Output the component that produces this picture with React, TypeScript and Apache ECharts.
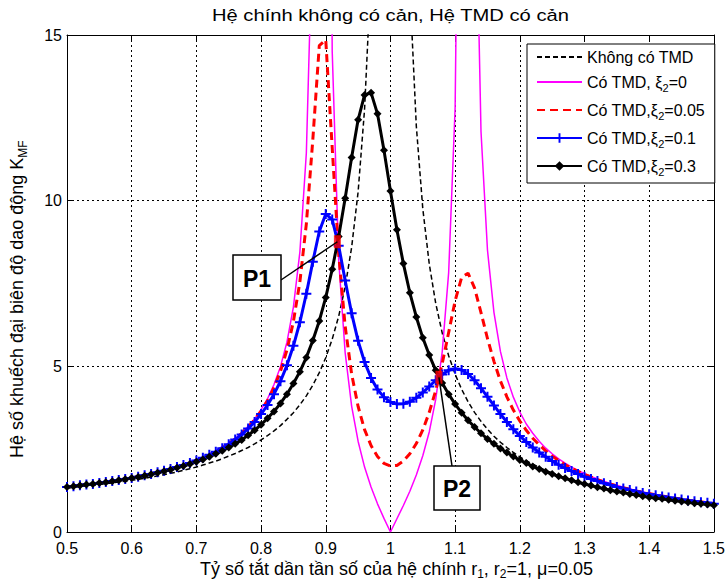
import React, { useEffect, useRef } from "react";
import * as echarts from "echarts";

// Frequency ratio r1 (x values)
const r = [
  0.5, 0.51, 0.52, 0.53, 0.54, 0.55, 0.56, 0.57, 0.58, 0.59,
  0.6, 0.61, 0.62, 0.63, 0.64, 0.65, 0.66, 0.67, 0.68, 0.69,
  0.7, 0.71, 0.72, 0.73, 0.74, 0.75, 0.76, 0.77, 0.78, 0.79,
  0.8, 0.81, 0.82, 0.83, 0.84, 0.85, 0.86, 0.87, 0.88, 0.89,
  0.9, 0.91, 0.92, 0.93, 0.94, 0.95, 0.96, 0.97, 0.98, 0.99,
  1.0,
  1.01, 1.02, 1.03, 1.04, 1.05, 1.06, 1.07, 1.08, 1.09, 1.1,
  1.11, 1.12, 1.13, 1.14, 1.15, 1.16, 1.17, 1.18, 1.19, 1.2,
  1.21, 1.22, 1.23, 1.24, 1.25, 1.26, 1.27, 1.28, 1.29, 1.3,
  1.31, 1.32, 1.33, 1.34, 1.35, 1.36, 1.37, 1.38, 1.39, 1.4,
  1.41, 1.42, 1.43, 1.44, 1.45, 1.46, 1.47, 1.48, 1.49, 1.5,
];

// Không có TMD
const kNoTMD = [
  1.33, 1.35, 1.37, 1.39, 1.41, 1.43, 1.46, 1.48, 1.51, 1.53,
  1.56, 1.59, 1.62, 1.66, 1.69, 1.73, 1.77, 1.81, 1.86, 1.91,
  1.96, 2.02, 2.08, 2.14, 2.21, 2.29, 2.37, 2.46, 2.55, 2.66,
  2.78, 2.91, 3.05, 3.21, 3.4, 3.6, 3.84, 4.11, 4.43, 4.81,
  5.26, 5.82, 6.51, 7.4, 8.59, 10.26, 12.76, 16.92, 25.25, 50.25,
  null,
  49.75, 24.75, 16.42, 12.25, 9.76, 8.09, 6.9, 6.01, 5.32, 4.76,
  4.31, 3.93, 3.61, 3.34, 3.1, 2.89, 2.71, 2.55, 2.4, 2.27,
  2.15, 2.05, 1.95, 1.86, 1.78, 1.7, 1.63, 1.57, 1.51, 1.45,
  1.4, 1.35, 1.3, 1.26, 1.22, 1.18, 1.14, 1.11, 1.07, 1.04,
  1.01, 0.98, 0.96, 0.93, 0.91, 0.88, 0.86, 0.84, 0.82, 0.8,
];

// Có TMD, ξ2 = 0
const kXi0 = [
  1.36, 1.38, 1.41, 1.43, 1.45, 1.48, 1.51, 1.54, 1.57, 1.6,
  1.63, 1.67, 1.71, 1.75, 1.8, 1.85, 1.9, 1.96, 2.02, 2.09,
  2.16, 2.25, 2.34, 2.44, 2.55, 2.68, 2.82, 2.99, 3.19, 3.41,
  3.69, 4.02, 4.45, 4.99, 5.73, 6.79, 8.45, 11.44, 18.53, 57.48,
  43.18, 14.5, 8.2, 5.41, 3.8, 2.74, 1.96, 1.36, 0.85, 0.41,
  0,
  0.4, 0.8, 1.23, 1.72, 2.3, 3.02, 4.0, 5.43, 7.83, 12.8,
  30.01, 127.3, 21.58, 12.09, 8.51, 6.63, 5.45, 4.65, 4.07, 3.62,
  3.26, 2.98, 2.74, 2.53, 2.36, 2.21, 2.08, 1.96, 1.86, 1.76,
  1.68, 1.6, 1.53, 1.46, 1.41, 1.35, 1.3, 1.25, 1.21, 1.17,
  1.13, 1.09, 1.06, 1.02, 0.99, 0.96, 0.94, 0.91, 0.89, 0.86,
];

// Có TMD, ξ2 = 0.05
const kXi005 = [
  1.36, 1.38, 1.41, 1.43, 1.45, 1.48, 1.51, 1.54, 1.57, 1.6,
  1.63, 1.67, 1.71, 1.75, 1.8, 1.85, 1.9, 1.96, 2.02, 2.09,
  2.16, 2.24, 2.33, 2.43, 2.55, 2.67, 2.81, 2.98, 3.17, 3.39,
  3.65, 3.97, 4.36, 4.85, 5.49, 6.35, 7.55, 9.3, 11.84, 14.68,
  14.85, 11.59, 8.39, 6.21, 4.77, 3.79, 3.09, 2.61, 2.28, 2.07,
  1.99,
  2.01, 2.14, 2.36, 2.67, 3.08, 3.61, 4.27, 5.08, 6.02, 6.98,
  7.68, 7.81, 7.37, 6.62, 5.84, 5.15, 4.56, 4.08, 3.68, 3.35,
  3.07, 2.83, 2.63, 2.45, 2.29, 2.16, 2.03, 1.92, 1.83, 1.74,
  1.66, 1.58, 1.51, 1.45, 1.39, 1.34, 1.29, 1.24, 1.2, 1.16,
  1.12, 1.09, 1.05, 1.02, 0.99, 0.96, 0.93, 0.91, 0.88, 0.86,
];

// Có TMD, ξ2 = 0.1
const kXi01 = [
  1.36, 1.38, 1.41, 1.43, 1.45, 1.48, 1.51, 1.54, 1.57, 1.6,
  1.63, 1.67, 1.71, 1.75, 1.8, 1.85, 1.9, 1.96, 2.02, 2.08,
  2.16, 2.24, 2.33, 2.42, 2.53, 2.65, 2.79, 2.94, 3.12, 3.32,
  3.56, 3.83, 4.16, 4.55, 5.03, 5.62, 6.33, 7.19, 8.16, 9.07,
  9.6, 9.43, 8.64, 7.59, 6.6, 5.77, 5.13, 4.65, 4.3, 4.07,
  3.92,
  3.86, 3.87, 3.93, 4.05, 4.21, 4.39, 4.58, 4.75, 4.88, 4.93,
  4.89, 4.77, 4.58, 4.34, 4.08, 3.82, 3.56, 3.32, 3.1, 2.9,
  2.72, 2.55, 2.4, 2.27, 2.14, 2.03, 1.93, 1.84, 1.75, 1.67,
  1.6, 1.54, 1.47, 1.42, 1.36, 1.31, 1.27, 1.22, 1.18, 1.14,
  1.11, 1.07, 1.04, 1.01, 0.98, 0.95, 0.93, 0.9, 0.88, 0.85,
];

// Có TMD, ξ2 = 0.3
const kXi03 = [
  1.36, 1.38, 1.4, 1.43, 1.45, 1.48, 1.5, 1.53, 1.56, 1.59,
  1.63, 1.66, 1.7, 1.74, 1.79, 1.83, 1.88, 1.94, 1.99, 2.05,
  2.12, 2.19, 2.27, 2.36, 2.45, 2.55, 2.66, 2.78, 2.92, 3.07,
  3.24, 3.43, 3.64, 3.88, 4.16, 4.48, 4.84, 5.27, 5.78, 6.37,
  7.08, 7.93, 8.92, 10.07, 11.3, 12.44, 13.19, 13.26, 12.62, 11.52,
  10.29,
  9.12, 8.1, 7.22, 6.49, 5.86, 5.34, 4.88, 4.5, 4.16, 3.86,
  3.6, 3.37, 3.17, 2.98, 2.81, 2.66, 2.52, 2.4, 2.28, 2.17,
  2.08, 1.98, 1.9, 1.82, 1.75, 1.68, 1.62, 1.56, 1.5, 1.45,
  1.4, 1.35, 1.31, 1.26, 1.22, 1.19, 1.15, 1.12, 1.08, 1.05,
  1.02, 1.0, 0.97, 0.94, 0.92, 0.9, 0.87, 0.85, 0.83, 0.81,
];

// Fixed points P1, P2
const fixedPoints = [
  [0.918, 8.76],
  [1.075, 4.67],
];
const fixedLabels = ["P1", "P2"];

const seriesNames = [
  "Không có TMD",
  "Có TMD, ξ2=0",
  "Có TMD,ξ2=0.05",
  "Có TMD,ξ2=0.1",
  "Có TMD,ξ2=0.3",
];
const legendRich = [
  "{t|Không có TMD}",
  "{t|Có TMD, ξ}{s|2}{t|=0}",
  "{t|Có TMD,ξ}{s|2}{t|=0.05}",
  "{t|Có TMD,ξ}{s|2}{t|=0.1}",
  "{t|Có TMD,ξ}{s|2}{t|=0.3}",
];

const titleText = "Hệ chính không có cản, Hệ TMD có cản";
const xLabelText = "Tỷ số tắt dần tần số của hệ chính r{s|1}, r{s|2}=1, μ=0.05";
const yLabelText = "Hệ số khuếch đại biên độ dao động K{s|MF}";

const FONT = "'Liberation Sans', Arial, Helvetica, sans-serif";
const PLUS = "path://M4,0H6V4H10V6H6V10H4V6H0V4H4Z";

const pairs = (ys: (number | null)[]) => r.map((x, i) => [x, ys[i] === null ? "-" : ys[i]]);

export default function App() {
  const ref = useRef<HTMLDivElement>(null);
  useEffect(() => {
    if (!ref.current) return;
    const chart = echarts.init(ref.current, undefined, { renderer: "svg" });
    const grid = { left: 67, right: 5, top: 35, bottom: 50 };
    const gridLine = { show: true, lineStyle: { color: "#000", type: [2, 3] as any, width: 1 } };
    const subRich = (size: number) => ({
      fontSize: size, verticalAlign: "bottom", lineHeight: 22, fontFamily: FONT, fill: "#000",
    });

    const noSymbol = { opacity: 0, color: "transparent", borderColor: "transparent" };

    chart.setOption({
      animation: false,
      backgroundColor: "#fff",
      grid,
      xAxis: [
        {
          type: "value", min: 0.5, max: 1.5, interval: 0.1, position: "bottom",
          axisLine: { show: true, onZero: false, lineStyle: { color: "#000", width: 1 } },
          axisTick: { show: true, inside: true, length: 5, lineStyle: { color: "#000" } },
          axisLabel: { color: "#000", fontSize: 16, lineHeight: 16, fontFamily: FONT, margin: 8,
            formatter: (v: number) => String(Math.round(v * 10) / 10) },
          splitLine: gridLine,
        },
        {
          type: "value", min: 0.5, max: 1.5, interval: 0.1, position: "top",
          axisLine: { show: true, onZero: false, lineStyle: { color: "#000", width: 1 } },
          axisTick: { show: true, inside: true, length: 5, lineStyle: { color: "#000" } },
          axisLabel: { show: false }, splitLine: { show: false },
        },
      ],
      yAxis: [
        {
          type: "value", min: 0, max: 15, interval: 5, position: "left",
          axisLine: { show: true, onZero: false, lineStyle: { color: "#000", width: 1 } },
          axisTick: { show: true, inside: true, length: 5, lineStyle: { color: "#000" } },
          axisLabel: { color: "#000", fontSize: 16, lineHeight: 12, fontFamily: FONT, margin: 5 },
          splitLine: gridLine,
        },
        {
          type: "value", min: 0, max: 15, interval: 5, position: "right",
          axisLine: { show: true, onZero: false, lineStyle: { color: "#000", width: 1 } },
          axisTick: { show: true, inside: true, length: 5, lineStyle: { color: "#000" } },
          axisLabel: { show: false }, splitLine: { show: false },
        },
      ],
      legend: {
        data: [
          { name: seriesNames[0], itemStyle: noSymbol },
          { name: seriesNames[1], itemStyle: noSymbol },
          { name: seriesNames[2], itemStyle: noSymbol },
          { name: seriesNames[3] },
          { name: seriesNames[4] },
        ],
        orient: "vertical",
        left: 527,
        top: 44,
        padding: [5, 10, 6, 9],
        itemWidth: 45,
        itemHeight: 12,
        itemGap: 9,
        borderColor: "#000",
        borderWidth: 1,
        borderRadius: 0,
        backgroundColor: "#fff",
        formatter: (name: string) => legendRich[seriesNames.indexOf(name)],
        textStyle: {
          color: "#000",
          rich: {
            t: { fontSize: 16, fontFamily: FONT, color: "#000", lineHeight: 22 },
            s: { fontSize: 11, fontFamily: FONT, color: "#000", verticalAlign: "bottom", lineHeight: 22 },
          },
        },
      },
      series: [
        {
          name: seriesNames[0], type: "line", data: pairs(kNoTMD), showSymbol: false,
          lineStyle: { color: "#000", width: 1.5, type: [5, 3] }, itemStyle: { color: "#000" },
        },
        {
          name: seriesNames[1], type: "line", data: pairs(kXi0), showSymbol: false,
          lineStyle: { color: "#ff00ff", width: 1.5 }, itemStyle: { color: "#ff00ff" },
        },
        {
          name: seriesNames[2], type: "line", data: pairs(kXi005), showSymbol: false,
          lineStyle: { color: "#ff0000", width: 3, type: [8, 5] }, itemStyle: { color: "#ff0000" },
        },
        {
          name: seriesNames[3], type: "line", data: pairs(kXi01), showSymbol: true,
          symbol: PLUS, symbolSize: 10, symbolKeepAspect: true,
          lineStyle: { color: "#0000ff", width: 3 }, itemStyle: { color: "#0000ff" },
        },
        {
          name: seriesNames[4], type: "line", data: pairs(kXi03), showSymbol: true,
          symbol: "diamond", symbolSize: 8,
          lineStyle: { color: "#000", width: 3 }, itemStyle: { color: "#000" },
        },
        {
          name: "fixed", type: "scatter", data: fixedPoints, symbol: "rect", symbolSize: [7, 13],
          itemStyle: { color: "#ff0000" }, z: 5,
        },
      ],
    });

    const p1 = chart.convertToPixel({ xAxisIndex: 0, yAxisIndex: 0 }, fixedPoints[0]) as number[];
    const p2 = chart.convertToPixel({ xAxisIndex: 0, yAxisIndex: 0 }, fixedPoints[1]) as number[];
    const boxes = [
      { x: 233, y: 255, w: 48, h: 45, lx: 281, ly: 280, p: p1 },
      { x: 434, y: 466, w: 46, h: 44, lx: 452, ly: 466, p: p2 },
    ];

    const graphic: any[] = [
      {
        type: "text", x: 212, y: 16, z: 10, scaleX: 1.26,
        style: { text: titleText, fontSize: 16, fontFamily: FONT, fill: "#000", align: "left", verticalAlign: "middle" },
      },
      {
        type: "text", x: 200, y: 569, z: 10,
        style: {
          text: xLabelText, fontSize: 18, fontFamily: FONT, fill: "#000", align: "left", verticalAlign: "middle",
          rich: { s: subRich(12) },
        },
      },
      {
        type: "text", x: 17, y: 458, rotation: Math.PI / 2, z: 10,
        style: {
          text: yLabelText, fontSize: 18, fontFamily: FONT, fill: "#000", align: "left", verticalAlign: "middle",
          rich: { s: { ...subRich(12), lineHeight: 24 } },
        },
      },
    ];
    boxes.forEach((b, i) => {
      graphic.push({
        type: "line", z: 20,
        shape: { x1: b.lx, y1: b.ly, x2: b.p[0], y2: b.p[1] },
        style: { stroke: "#000", lineWidth: 1.5 },
      });
      graphic.push({
        type: "rect", z: 21,
        shape: { x: b.x, y: b.y, width: b.w, height: b.h },
        style: { fill: "#fff", stroke: "#000", lineWidth: 1.5 },
      });
      graphic.push({
        type: "text", z: 22, x: b.x + b.w / 2, y: b.y + b.h / 2 + 1,
        style: { text: fixedLabels[i], fontSize: 23, fontWeight: "bold", fontFamily: FONT, fill: "#000",
          align: "center", verticalAlign: "middle" },
      });
    });
    chart.setOption({ graphic });

    return () => chart.dispose();
  }, []);
  return <div ref={ref} style={{ width: 728, height: 582, position: "absolute", left: 0, top: 0 }} />;
}
